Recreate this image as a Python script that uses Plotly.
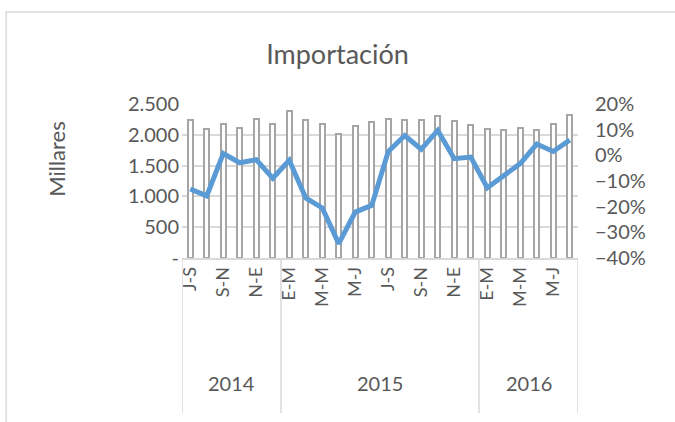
import plotly.graph_objects as go

periodos = ["J-S", "A-O", "S-N", "O-D", "N-E", "D-F",
            "E-M", "F-A", "M-M", "A-J", "M-J", "J-A", "J-S", "A-O", "S-N", "O-D", "N-E", "D-F",
            "E-M", "F-A", "M-M", "A-J", "M-J", "J-A"]
anios = ["2014"] * 6 + ["2015"] * 12 + ["2016"] * 6
importacion = [2246, 2092, 2180, 2103, 2252, 2169, 2384, 2235, 2169, 2014, 2147, 2202,
               2263, 2241, 2235, 2312, 2224, 2163, 2092, 2081, 2108, 2081, 2180, 2329]
variacion = [-13.1, -15.8, 0.7, -2.9, -1.7, -8.9, -1.9, -16.6, -20.5, -34.4, -22.1, -19.5,
             1.5, 7.7, 2.4, 9.7, -1.3, -0.7, -12.6, -7.9, -3.2, 4.4, 1.5, 6.0]
left_ticks = [0, 500, 1000, 1500, 2000, 2500]
left_text = ["-", "500", "1.000", "1.500", "2.000", "2.500"]

x = list(range(len(periodos)))
var_frac = [v / 100 for v in variacion]

FONT = "Lato"
TXT = "#595959"
GRID = "#D9D9D9"

fig = go.Figure()
fig.add_trace(go.Bar(x=x, y=importacion, width=0.3,
                     marker=dict(color="white", line=dict(color="#A5A5A5", width=2)),
                     name="Importación"))
fig.add_trace(go.Scatter(x=x, y=var_frac, yaxis="y2", mode="lines",
                         line=dict(color="#5B9BD5", width=5), name="Variación"))

# group labels and separators
groups = []
for i, a in enumerate(anios):
    if not groups or groups[-1][0] != a:
        groups.append([a, i, i])
    else:
        groups[-1][2] = i

shapes = []
bounds = [-0.5] + [g[2] + 0.5 for g in groups]
for b in bounds:
    shapes.append(dict(type="line", xref="x", yref="paper", x0=b, x1=b, y0=0, y1=-1.006,
                       line=dict(color=GRID, width=1.5)))
# outer chart border
shapes.append(dict(type="rect", xref="paper", yref="paper", x0=-0.444, x1=1.3, y0=-1.2, y1=1.597,
                   line=dict(color=GRID, width=1.5), fillcolor="rgba(0,0,0,0)", layer="below"))

annotations = []
for a, s, e in groups:
    annotations.append(dict(x=(s + e) / 2, y=-0.812, xref="x", yref="paper", text=a,
                            showarrow=False, yanchor="middle",
                            font=dict(family=FONT, size=20, color=TXT)))
annotations.append(dict(x=-0.316, y=0.643, xref="paper", yref="paper", text="Millares",
                        textangle=-90, showarrow=False, xanchor="center", yanchor="middle",
                        font=dict(family=FONT, size=22, color=TXT)))

fig.update_layout(
    width=675, height=422,
    margin=dict(l=182, r=97, t=104, b=164),
    paper_bgcolor="white", plot_bgcolor="white",
    showlegend=False,
    bargap=0,
    title=dict(text="Importación", x=0.5, xref="container", xanchor="center", y=0.870, yref="container",
               yanchor="middle", font=dict(family=FONT, size=27, color=TXT)),
    font=dict(family=FONT, color=TXT),
    xaxis=dict(range=[-0.5, len(periodos) - 0.5], tickvals=x[::2], ticktext=periodos[::2],
               tickangle=-90, showgrid=False, showline=True, linecolor=GRID, linewidth=1.5,
               ticks="", tickfont=dict(family=FONT, size=18, color=TXT), zeroline=False),
    yaxis=dict(range=[0, 2500], tickvals=left_ticks, ticktext=left_text, showgrid=True,
               gridcolor=GRID, gridwidth=1.5, zeroline=False, showline=False, ticks="",
               ticklabelstandoff=2, tickfont=dict(family=FONT, size=20, color=TXT)),
    yaxis2=dict(range=[-0.4, 0.2], dtick=0.1, tick0=-0.4, tickformat=".0%", overlaying="y",
                side="right", showgrid=False, zeroline=False, showline=False, ticks="",
                ticklabelstandoff=16, tickfont=dict(family=FONT, size=20, color=TXT)),
    shapes=shapes,
    annotations=annotations,
)

fig.write_html("out.html", config={"displayModeBar": False},
               post_script="document.body.style.margin='0px';")
